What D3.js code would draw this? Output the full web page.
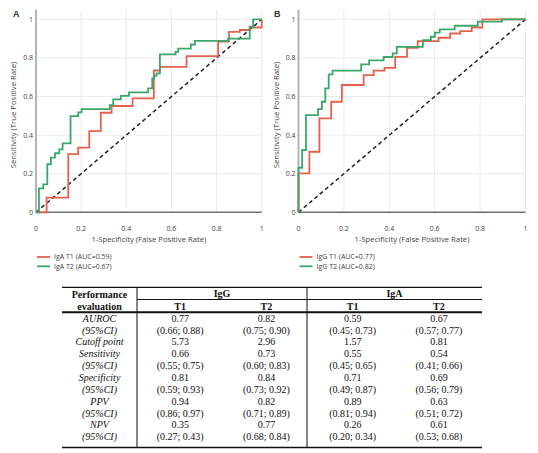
<!DOCTYPE html>
<html>
<head>
<meta charset="utf-8">
<title>ROC IgA / IgG</title>
<style>
  body { margin: 0; background: #fff; }
  svg text { font-family: "Open Sans", sans-serif; }
  .tbl text { font-family: "Liberation Serif", "Times New Roman", serif; font-size: 10px; fill: #111; }
</style>
</head>
<body>
<svg id="viz" width="538" height="453"></svg>
<script src="https://d3js.org/d3.v7.min.js"></script>
<script>
// panel A : IgA
var igaT1Fpr = [0, 0.047, 0.143, 0.187, 0.236, 0.287, 0.335, 0.428, 0.522, 0.549, 0.667, 0.807, 0.855, 0.903, 0.947, 1.0];
var igaT1Tpr = [0, 0.076, 0.302, 0.335, 0.421, 0.516, 0.551, 0.591, 0.735, 0.754, 0.81, 0.885, 0.935, 0.945, 0.958, 1.0];
var igaT2Fpr = [0, 0.013, 0.032, 0.05, 0.066, 0.084, 0.103, 0.118, 0.153, 0.187, 0.202, 0.327, 0.342, 0.376, 0.412, 0.497, 0.515, 0.523, 0.534, 0.549, 0.618, 0.63, 0.686, 0.704, 0.851, 0.947, 0.962, 1.0];
var igaT2Tpr = [0, 0.124, 0.145, 0.249, 0.283, 0.306, 0.326, 0.357, 0.499, 0.518, 0.535, 0.556, 0.585, 0.604, 0.622, 0.642, 0.694, 0.708, 0.72, 0.819, 0.832, 0.849, 0.87, 0.889, 0.90, 0.962, 1.0, 1.0];

// panel B : IgG
var iggT1Fpr = [0, 0, 0.048, 0.092, 0.144, 0.191, 0.287, 0.331, 0.379, 0.426, 0.478, 0.525, 0.617, 0.668, 0.712, 0.763, 0.81, 1.0];
var iggT1Tpr = [0, 0.202, 0.314, 0.487, 0.573, 0.66, 0.711, 0.734, 0.749, 0.806, 0.853, 0.887, 0.905, 0.927, 0.939, 0.958, 1.0, 1.0];
var iggT2Fpr = [0, 0, 0.016, 0.033, 0.086, 0.103, 0.118, 0.133, 0.15, 0.276, 0.311, 0.375, 0.415, 0.433, 0.548, 0.583, 0.601, 0.622, 0.688, 0.79, 0.896, 1.0];
var iggT2Tpr = [0, 0.231, 0.323, 0.504, 0.535, 0.573, 0.642, 0.715, 0.734, 0.767, 0.788, 0.805, 0.824, 0.858, 0.893, 0.91, 0.931, 0.948, 0.967, 0.988, 1.0, 1.0];

var tickVals = [0, 0.2, 0.4, 0.6, 0.8, 1];
var tickText = ["0", "0.2", "0.4", "0.6", "0.8", "1"];

// table
var rowLabels = ["AUROC", "(95%CI)", "Cutoff point", "Sensitivity", "(95%CI)", "Specificity", "(95%CI)", "PPV", "(95%CI)", "NPV", "(95%CI)"];
var colIggT1 = ["0.77", "(0.66; 0.88)", "5.73", "0.66", "(0.55; 0.75)", "0.81", "(0.59; 0.93)", "0.94", "(0.86; 0.97)", "0.35", "(0.27; 0.43)"];
var colIggT2 = ["0.82", "(0.75; 0.90)", "2.96", "0.73", "(0.60; 0.83)", "0.84", "(0.73; 0.92)", "0.82", "(0.71; 0.89)", "0.77", "(0.68; 0.84)"];
var colIgaT1 = ["0.59", "(0.45; 0.73)", "1.57", "0.55", "(0.45; 0.65)", "0.71", "(0.49; 0.87)", "0.89", "(0.81; 0.94)", "0.26", "(0.20; 0.34)"];
var colIgaT2 = ["0.67", "(0.57; 0.77)", "0.81", "0.54", "(0.41; 0.66)", "0.69", "(0.56; 0.79)", "0.63", "(0.51; 0.72)", "0.61", "(0.53; 0.68)"];

var red = "#e3624f", green = "#3aa86a";
var svg = d3.select("#viz");

function drawPanel(letter, x0, x1, series, names) {
  var x = d3.scaleLinear().domain([0, 1]).range([x0, x1]);
  var y = d3.scaleLinear().domain([0, 1]).range([212.3, 19.4]);
  var g = svg.append("g");

  // grid
  g.selectAll(".vg").data(tickVals.slice(1)).enter().append("line")
    .attr("x1", d => x(d)).attr("x2", d => x(d))
    .attr("y1", y(1.05)).attr("y2", y(0))
    .attr("stroke", "#ebebeb").attr("stroke-width", 1);
  g.selectAll(".hg").data(tickVals.slice(1)).enter().append("line")
    .attr("x1", x(0)).attr("x2", x(1))
    .attr("y1", d => y(d)).attr("y2", d => y(d))
    .attr("stroke", "#ebebeb").attr("stroke-width", 1);

  // axis lines
  g.append("line").attr("x1", x(0)).attr("x2", x(0)).attr("y1", y(1.05)).attr("y2", y(0))
    .attr("stroke", "#b4b4b4").attr("stroke-width", 2);
  g.append("line").attr("x1", x(0)).attr("x2", x(1)).attr("y1", y(0)).attr("y2", y(0))
    .attr("stroke", "#707070").attr("stroke-width", 1.6);

  // tick labels
  g.selectAll(".yt").data(tickVals).enter().append("text")
    .attr("x", x(0) - 3).attr("y", d => y(d)).attr("dy", "0.35em")
    .attr("text-anchor", "end").attr("font-size", 7).attr("fill", "#444")
    .text((d, i) => tickText[i]);
  g.selectAll(".xt").data(tickVals).enter().append("text")
    .attr("x", d => x(d)).attr("y", 230.5)
    .attr("text-anchor", "middle").attr("font-size", 7).attr("fill", "#444")
    .text((d, i) => tickText[i]);

  // axis titles
  g.append("text").attr("x", (x0 + x1) / 2).attr("y", 242)
    .attr("text-anchor", "middle").attr("font-size", 7.7).attr("fill", "#444")
    .text("1-Specificity (False Positive Rate)");
  g.append("text").attr("transform", "translate(" + (x0 - 20) + ",115) rotate(-90)")
    .attr("text-anchor", "middle").attr("font-size", 7.7).attr("fill", "#444")
    .text("Sensitivity (True Positive Rate)");

  // chance line
  g.append("line").attr("x1", x(0)).attr("y1", y(0)).attr("x2", x(1)).attr("y2", y(1))
    .attr("stroke", "#222").attr("stroke-width", 1.5).attr("stroke-dasharray", "4,3");

  var line = d3.line().x(d => x(d[0])).y(d => y(d[1])).curve(d3.curveStepAfter);
  series.forEach(function(s) {
    var pts = s.fpr.map((v, i) => [v, s.tpr[i]]);
    g.append("path").datum(pts).attr("d", line)
      .attr("fill", "none").attr("stroke", s.color).attr("stroke-width", 1.8);
  });

  // legend
  series.forEach(function(s, i) {
    var ly = 257 + i * 9.3;
    g.append("line").attr("x1", x0 + 1).attr("x2", x0 + 14).attr("y1", ly).attr("y2", ly)
      .attr("stroke", s.color).attr("stroke-width", 1.8);
    g.append("text").attr("x", x0 + 18).attr("y", ly).attr("dy", "0.35em")
      .attr("font-size", 7).attr("fill", "#444").text(names[i]);
  });

  svg.append("text").attr("x", letter == "A" ? 13 : 274).attr("y", 16.5)
    .attr("font-size", 9).attr("font-weight", "bold").attr("fill", "#333")
    .style("font-family", "Liberation Sans, Arial, sans-serif").text(letter);
}

drawPanel("A", 36, 261.7,
  [{fpr: igaT1Fpr, tpr: igaT1Tpr, color: red}, {fpr: igaT2Fpr, tpr: igaT2Tpr, color: green}],
  ["IgA T1 (AUC=0.59)", "IgA T2 (AUC=0.67)"]);
drawPanel("B", 298.5, 525.5,
  [{fpr: iggT1Fpr, tpr: iggT1Tpr, color: red}, {fpr: iggT2Fpr, tpr: iggT2Tpr, color: green}],
  ["IgG T1 (AUC=0.77)", "IgG T2 (AUC=0.82)"]);

// ---- table ----
var tbl = svg.append("g").attr("class", "tbl");
var tx0 = 62, tx1 = 482, c1 = 137, cMid = 307;
var colX = d3.scaleBand().domain(["iggT1", "iggT2", "igaT1", "igaT2"]).range([c1, tx1]);
var rowY = d3.scaleLinear().domain([0, 10]).range([318.3, 436.7]);

function hline(xa, xb, yy, w) {
  tbl.append("line").attr("x1", xa).attr("x2", xb).attr("y1", yy).attr("y2", yy)
    .attr("stroke", "#111").attr("stroke-width", w);
}
hline(tx0, tx1, 287.3, 1.3);
hline(c1, tx1, 299.5, 1);
hline(tx0, tx1, 312.3, 2);
hline(tx0, tx1, 447.5, 1.3);
[c1, cMid].forEach(function(cx) {
  tbl.append("line").attr("x1", cx).attr("x2", cx).attr("y1", 287.3).attr("y2", 447.5)
    .attr("stroke", "#111").attr("stroke-width", 1);
});

tbl.append("text").attr("x", (tx0 + c1) / 2).attr("y", 294).attr("dy", "0.35em")
  .attr("text-anchor", "middle").attr("font-weight", "bold").text("Performance");
tbl.append("text").attr("x", (tx0 + c1) / 2).attr("y", 306).attr("dy", "0.35em")
  .attr("text-anchor", "middle").attr("font-weight", "bold").text("evaluation");
tbl.append("text").attr("x", (c1 + cMid) / 2).attr("y", 293).attr("dy", "0.35em")
  .attr("text-anchor", "middle").attr("font-weight", "bold").text("IgG");
tbl.append("text").attr("x", (cMid + tx1) / 2).attr("y", 293).attr("dy", "0.35em")
  .attr("text-anchor", "middle").attr("font-weight", "bold").text("IgA");
["iggT1", "iggT2", "igaT1", "igaT2"].forEach(function(k, i) {
  tbl.append("text").attr("x", colX(k) + colX.bandwidth() / 2).attr("y", 306).attr("dy", "0.35em")
    .attr("text-anchor", "middle").attr("font-weight", "bold").text(i % 2 == 0 ? "T1" : "T2");
});

tbl.selectAll(".rl").data(rowLabels).enter().append("text")
  .attr("x", (tx0 + c1) / 2).attr("y", (d, i) => rowY(i)).attr("dy", "0.35em")
  .attr("text-anchor", "middle").attr("font-style", "italic").text(d => d);

var cols = {iggT1: colIggT1, iggT2: colIggT2, igaT1: colIgaT1, igaT2: colIgaT2};
Object.keys(cols).forEach(function(k) {
  tbl.selectAll(".c-" + k).data(cols[k]).enter().append("text")
    .attr("x", colX(k) + colX.bandwidth() / 2).attr("y", (d, i) => rowY(i)).attr("dy", "0.35em")
    .attr("text-anchor", "middle").text(d => d);
});
</script>
</body>
</html>
